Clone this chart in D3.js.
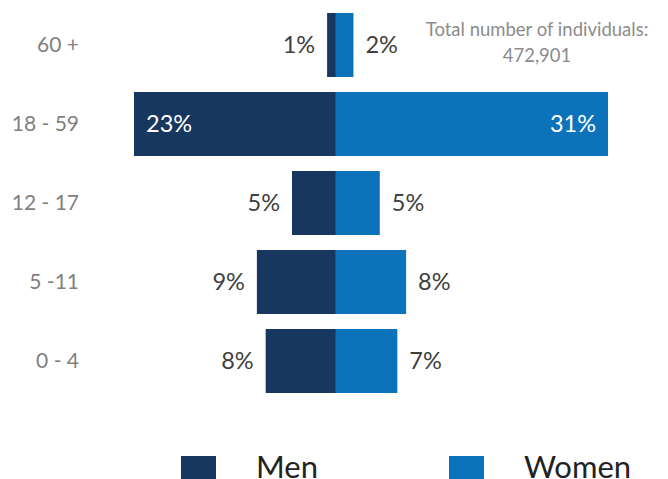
<!DOCTYPE html>
<html>
<head>
<meta charset="utf-8">
<script src="https://cdn.jsdelivr.net/npm/d3@7"></script>
<style>
  html, body { margin: 0; padding: 0; background: #fff; }
  svg { display: block; font-family: Lato, "Open Sans", sans-serif; }
</style>
</head>
<body>
<svg id="chart" width="668" height="479"></svg>
<script>
// Age groups, oldest at the top
const ageGroups = ["60 +", "18 - 59", "12 - 17", "5 -11", "0 - 4"];
// Share of all individuals (%)
const menValues = [1, 23, 5, 9, 8];
const womenValues = [2, 31, 5, 8, 7];
const seriesNames = ["Men", "Women"];
const totalLabel = ["Total number of individuals:", "472,901"];

const colors = { Men: "#17375e", Women: "#0c72b9" };

const svg = d3.select("#chart");

const x = d3.scaleLinear()
  .domain([-d3.max(menValues), d3.max(womenValues)])
  .range([134, 608]);

const y = d3.scaleBand()
  .domain(ageGroups)
  .range([5.5, 400.5])
  .paddingInner(0.19)
  .paddingOuter(0.095);

const rows = ageGroups.map((g, i) => ({ group: g, men: menValues[i], women: womenValues[i] }));

// Category axis on the left, no line or ticks
const yAxis = d3.axisLeft(y).tickSize(0).tickPadding(0);
const axisG = svg.append("g").attr("transform", "translate(79,0)").call(yAxis);
axisG.select(".domain").remove();
axisG.selectAll("text")
  .attr("font-family", "Lato, sans-serif")
  .attr("font-size", 21)
  .attr("fill", "#7f7f7f")
  .attr("dy", "0.35em");

// Men bars extend left of zero
svg.append("g").selectAll("rect")
  .data(rows).join("rect")
  .attr("x", d => x(-d.men))
  .attr("y", d => y(d.group))
  .attr("width", d => x(0) - x(-d.men))
  .attr("height", y.bandwidth())
  .attr("fill", colors.Men);

// Women bars extend right of zero
svg.append("g").selectAll("rect")
  .data(rows).join("rect")
  .attr("x", x(0))
  .attr("y", d => y(d.group))
  .attr("width", d => x(d.women) - x(0))
  .attr("height", y.bandwidth())
  .attr("fill", colors.Women);

// Value labels: inside the widest bars, outside otherwise
const insideMin = 15;
const labelSize = 23.5;
const pad = 12;

svg.append("g").selectAll("text")
  .data(rows).join("text")
  .attr("x", d => d.men >= insideMin ? x(-d.men) + pad : x(-d.men) - pad)
  .attr("y", d => y(d.group) + y.bandwidth() / 2)
  .attr("dy", "0.35em")
  .attr("text-anchor", d => d.men >= insideMin ? "start" : "end")
  .attr("font-size", labelSize)
  .attr("fill", d => d.men >= insideMin ? "#ffffff" : "#404040")
  .text(d => d.men + "%");

svg.append("g").selectAll("text")
  .data(rows).join("text")
  .attr("x", d => d.women >= insideMin ? x(d.women) - pad : x(d.women) + pad)
  .attr("y", d => y(d.group) + y.bandwidth() / 2)
  .attr("dy", "0.35em")
  .attr("text-anchor", d => d.women >= insideMin ? "end" : "start")
  .attr("font-size", labelSize)
  .attr("fill", d => d.women >= insideMin ? "#ffffff" : "#404040")
  .text(d => d.women + "%");

// Total count note
svg.append("g").selectAll("text")
  .data(totalLabel).join("text")
  .attr("x", 537)
  .attr("y", (d, i) => 36 + i * 26)
  .attr("text-anchor", "middle")
  .attr("font-size", 18.5)
  .attr("fill", "#8c8c8c")
  .text(d => d);

// Legend
const legendX = [181, 449];
const legend = svg.append("g").selectAll("g")
  .data(seriesNames).join("g")
  .attr("transform", (d, i) => `translate(${legendX[i]},456)`);
legend.append("rect")
  .attr("width", 35).attr("height", 30)
  .attr("fill", d => colors[d]);
legend.append("text")
  .attr("x", 75).attr("y", 22)
  .attr("font-size", 31)
  .attr("fill", "#222222")
  .text(d => d);
</script>
</body>
</html>
